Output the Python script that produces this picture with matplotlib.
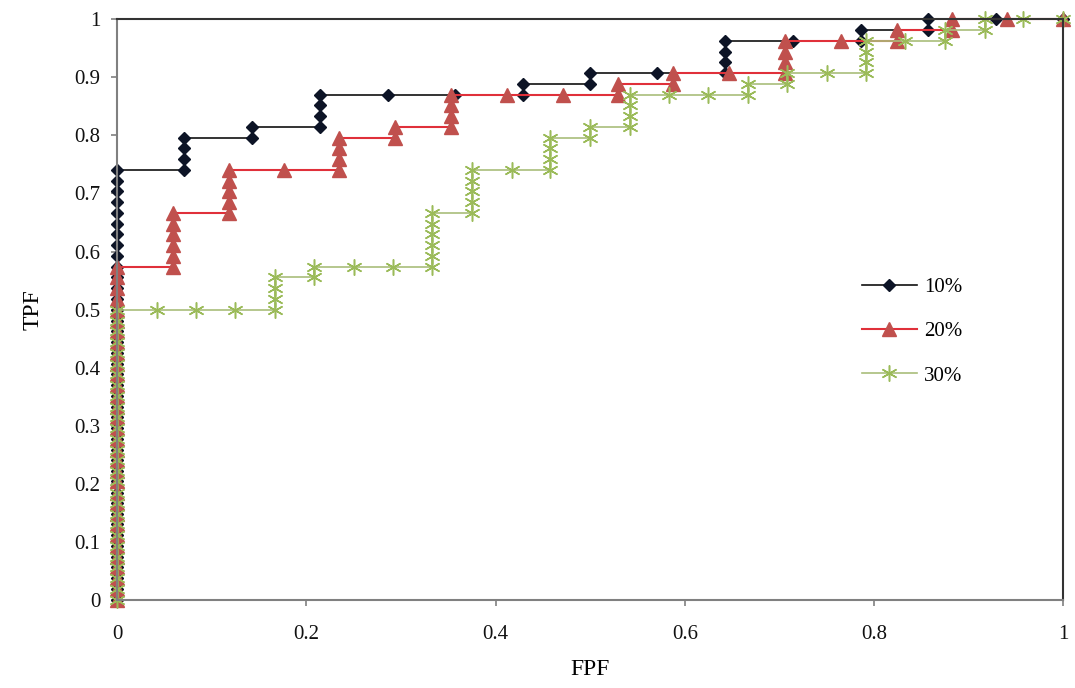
import matplotlib
matplotlib.use("Agg")
import matplotlib.pyplot as plt

plt.rcParams['font.family'] = ['Liberation Serif', 'DejaVu Serif']

# ROC points, grouped by FPF column (each column lists the TPF values at that FPF)
cols_x_10 = [0.0, 0.071, 0.143, 0.214, 0.286, 0.357, 0.429, 0.5, 0.571, 0.643,
             0.714, 0.786, 0.857, 0.929, 1.0]
cols_y_10 = [
    [0.000, 0.019, 0.037, 0.056, 0.074, 0.093, 0.111, 0.130, 0.148, 0.167,
     0.185, 0.204, 0.222, 0.241, 0.259, 0.278, 0.296, 0.315, 0.333, 0.352,
     0.370, 0.389, 0.407, 0.426, 0.444, 0.463, 0.481, 0.500, 0.519, 0.537,
     0.556, 0.574, 0.593, 0.611, 0.630, 0.648, 0.667, 0.685, 0.704, 0.722, 0.741],
    [0.741, 0.759, 0.778, 0.796],
    [0.796, 0.815],
    [0.815, 0.833, 0.852, 0.870],
    [0.870],
    [0.870],
    [0.870, 0.889],
    [0.889, 0.907],
    [0.907],
    [0.907, 0.926, 0.944, 0.963],
    [0.963],
    [0.963, 0.981],
    [0.981, 1.0],
    [1.0],
    [1.0],
]

cols_x_20 = [0.0, 0.059, 0.118, 0.176, 0.235, 0.294, 0.353, 0.412, 0.471, 0.529,
             0.588, 0.647, 0.706, 0.765, 0.824, 0.882, 0.941, 1.0]
cols_y_20 = [
    [0.000, 0.019, 0.037, 0.056, 0.074, 0.093, 0.111, 0.130, 0.148, 0.167,
     0.185, 0.204, 0.222, 0.241, 0.259, 0.278, 0.296, 0.315, 0.333, 0.352,
     0.370, 0.389, 0.407, 0.426, 0.444, 0.463, 0.481, 0.500, 0.519, 0.537,
     0.556, 0.574],
    [0.574, 0.593, 0.611, 0.630, 0.648, 0.667],
    [0.667, 0.685, 0.704, 0.722, 0.741],
    [0.741],
    [0.741, 0.759, 0.778, 0.796],
    [0.796, 0.815],
    [0.815, 0.833, 0.852, 0.870],
    [0.870],
    [0.870],
    [0.870, 0.889],
    [0.889, 0.907],
    [0.907],
    [0.907, 0.926, 0.944, 0.963],
    [0.963],
    [0.963, 0.981],
    [0.981, 1.0],
    [1.0],
    [1.0],
]

cols_x_30 = [0.0, 0.042, 0.083, 0.125, 0.167, 0.208, 0.25, 0.292, 0.333, 0.375,
             0.417, 0.458, 0.5, 0.542, 0.583, 0.625, 0.667, 0.708, 0.75, 0.792,
             0.833, 0.875, 0.917, 0.958, 1.0]
cols_y_30 = [
    [0.000, 0.019, 0.037, 0.056, 0.074, 0.093, 0.111, 0.130, 0.148, 0.167,
     0.185, 0.204, 0.222, 0.241, 0.259, 0.278, 0.296, 0.315, 0.333, 0.352,
     0.370, 0.389, 0.407, 0.426, 0.444, 0.463, 0.481, 0.500],
    [0.500], [0.500], [0.500],
    [0.500, 0.519, 0.537, 0.556],
    [0.556, 0.574],
    [0.574], [0.574],
    [0.574, 0.593, 0.611, 0.630, 0.648, 0.667],
    [0.667, 0.685, 0.704, 0.722, 0.741],
    [0.741],
    [0.741, 0.759, 0.778, 0.796],
    [0.796, 0.815],
    [0.815, 0.833, 0.852, 0.870],
    [0.870], [0.870],
    [0.870, 0.889],
    [0.889, 0.907],
    [0.907],
    [0.907, 0.926, 0.944, 0.963],
    [0.963],
    [0.963, 0.981],
    [0.981, 1.0],
    [1.0],
    [1.0],
]

labels = ['10%', '20%', '30%']
x_ticks = [0, 0.2, 0.4, 0.6, 0.8, 1]
y_ticks = [0, 0.1, 0.2, 0.3, 0.4, 0.5, 0.6, 0.7, 0.8, 0.9, 1]


def flatten(cols_x, cols_y):
    xs, ys = [], []
    for x, col in zip(cols_x, cols_y):
        for y in col:
            xs.append(x)
            ys.append(y)
    return xs, ys


fig = plt.figure(figsize=(10.75, 6.88), dpi=100)
ax = fig.add_axes([0.109, 0.128, 0.880, 0.844])

styles = [
    dict(color='#111111', marker='D', markersize=6.3, markerfacecolor='#0d1426',
         markeredgecolor='#0d1426', linewidth=1.2),
    dict(color='#e0303a', marker='^', markersize=9.5, markerfacecolor='#c0504d',
         markeredgecolor='#c0504d', linewidth=1.5),
    dict(color='#a9bd7a', marker=(6, 2, 0), markersize=11.5, markerfacecolor='#9bbb59',
         markeredgecolor='#9bbb59', markeredgewidth=1.1, linewidth=1.2),
]

for (cx, cy), lab, st in zip([(cols_x_10, cols_y_10), (cols_x_20, cols_y_20),
                              (cols_x_30, cols_y_30)], labels, styles):
    xs, ys = flatten(cx, cy)
    ax.plot(xs, ys, label=lab, clip_on=False, **st)

ax.set_xlim(0, 1)
ax.set_ylim(0, 1)
ax.set_xticks(x_ticks)
ax.set_xticklabels(['0', '0.2', '0.4', '0.6', '0.8', '1'])
ax.set_yticks(y_ticks)
ax.set_yticklabels(['0', '0.1', '0.2', '0.3', '0.4', '0.5', '0.6', '0.7', '0.8', '0.9', '1'])
ax.tick_params(axis='both', labelsize=15, colors='#808080', labelcolor='#111111',
               length=4, width=1.2, direction='out')
ax.tick_params(axis='x', pad=14)
ax.tick_params(axis='y', pad=8)

for side in ['left', 'bottom']:
    ax.spines[side].set_color('#808080')
    ax.spines[side].set_linewidth(1.5)
for side in ['top', 'right']:
    ax.spines[side].set_color('#333333')
    ax.spines[side].set_linewidth(1.5)

ax.set_xlabel('FPF', fontsize=17, labelpad=11)
ax.set_ylabel('TPF', fontsize=17, labelpad=22)

ax.legend(loc='center left', bbox_to_anchor=(0.787, 0.462), frameon=False,
          fontsize=15, numpoints=1, handlelength=2.65, handletextpad=0.35,
          labelspacing=1.18, borderpad=0, borderaxespad=0)

fig.savefig('out.png', dpi=100)
